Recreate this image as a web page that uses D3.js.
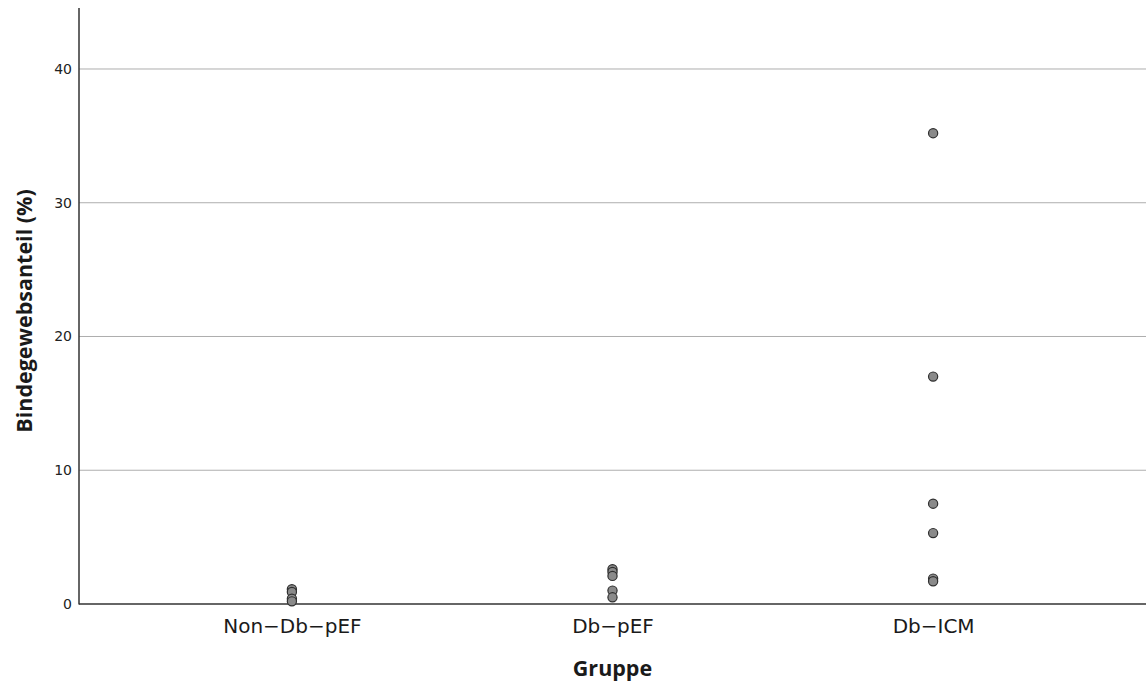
<!DOCTYPE html>
<html><head><meta charset="utf-8">
<script src="https://cdn.jsdelivr.net/npm/d3@7"></script>
<style>body{margin:0;background:#fff;} svg{display:block;}</style>
</head><body><svg id="c" width="1146" height="686"></svg>
<script>
const categories = ["Non\u2212Db\u2212pEF", "Db\u2212pEF", "Db\u2212ICM"];
const nonDbPEF = [1.1, 0.9, 0.4, 0.2];
const dbPEF = [2.6, 2.4, 2.1, 1.0, 0.5];
const dbICM = [35.2, 17.0, 7.5, 5.3, 1.9, 1.7];
const yTicks = [0, 10, 20, 30, 40];
const yTitle = "Bindegewebsanteil (%)";
const xTitle = "Gruppe";

(function () {
const seriesValues = [nonDbPEF, dbPEF, dbICM];
const points = [];
seriesValues.forEach((vals, i) => vals.forEach(v => points.push({cat: categories[i], v})));

const svg = d3.select("#c");
const mLeft = 79, mRight = 1146, mTop = 8, mBottom = 604;
const x = d3.scalePoint().domain(categories).range([mLeft, mRight]).padding(0.664);
const y = d3.scaleLinear().domain([0, 44.56]).range([mBottom, mTop]);

// gridlines
svg.append("g").selectAll("line").data(yTicks.filter(d => d > 0)).join("line")
  .attr("x1", mLeft).attr("x2", mRight).attr("y1", d => y(d)).attr("y2", d => y(d))
  .attr("stroke", "#aeaeae").attr("stroke-width", 1);

// y axis
const yAxis = svg.append("g").attr("transform", `translate(${mLeft},0)`)
  .call(d3.axisLeft(y).tickValues(yTicks).tickSize(0).tickPadding(7).tickFormat(d3.format("d")));
yAxis.select(".domain").remove();
yAxis.selectAll("text").attr("font-family", "DejaVu Sans, sans-serif").attr("font-size", 14).attr("fill", "#222");

// x axis
const xAxis = svg.append("g").attr("transform", `translate(0,${mBottom})`)
  .call(d3.axisBottom(x).tickSize(0).tickPadding(15));
xAxis.select(".domain").remove();
xAxis.selectAll("text").attr("font-family", "DejaVu Sans, sans-serif").attr("font-size", 20).attr("fill", "#1a1a1a");

svg.append("line").attr("x1", mLeft).attr("x2", mLeft).attr("y1", mTop).attr("y2", mBottom + 0.5)
  .attr("stroke", "#333").attr("stroke-width", 1.5);
svg.append("line").attr("x1", mLeft).attr("x2", mRight).attr("y1", mBottom).attr("y2", mBottom)
  .attr("stroke", "#333").attr("stroke-width", 1.5);

// points
svg.append("g").selectAll("circle").data(points).join("circle")
  .attr("cx", d => x(d.cat)).attr("cy", d => y(d.v)).attr("r", 4.6)
  .attr("fill", "#8a8a8a").attr("stroke", "#2f2f2f").attr("stroke-width", 1.2);

// titles
svg.append("text").attr("x", x(categories[1])).attr("y", 676).attr("text-anchor", "middle")
  .attr("font-family", "Open Sans, sans-serif").attr("font-weight", "bold").attr("font-size", 21.5)
  .attr("fill", "#1a1a1a").text(xTitle);
svg.append("text").attr("transform", `translate(32,311) rotate(-90)`)
  .attr("text-anchor", "middle")
  .attr("font-family", "Open Sans, sans-serif").attr("font-weight", "bold").attr("font-size", 21.5)
  .attr("fill", "#1a1a1a").text(yTitle);
})();
</script></body></html>
